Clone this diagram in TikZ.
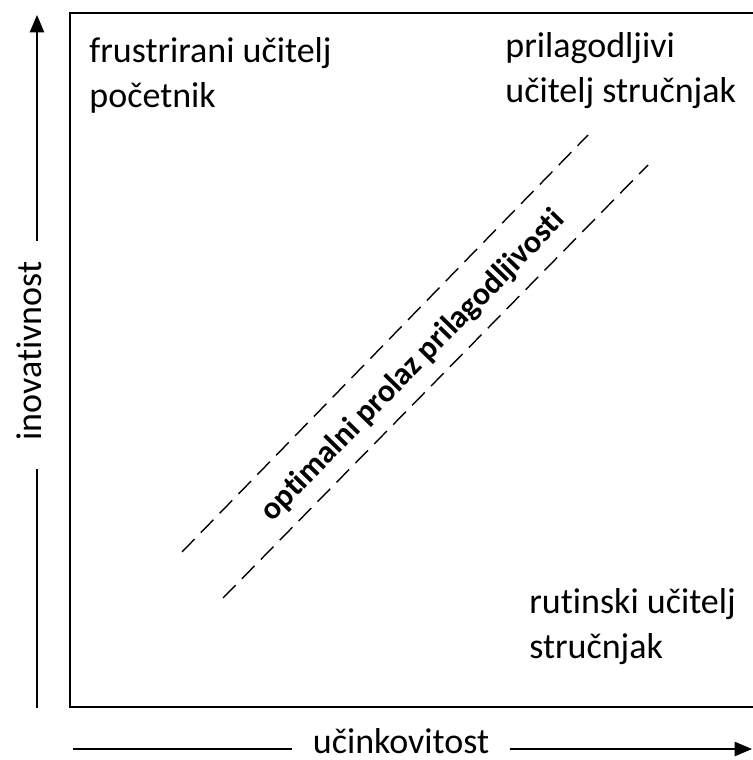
\documentclass[tikz,border=0pt]{standalone}
\usepackage{fontspec}
\setmainfont{Carlito}[Ligatures=NoCommon]
\usetikzlibrary{arrows}
\tikzstyle{quadrant} = [font=\fontsize{18}{22.5}\selectfont, align=left, inner sep=0pt, anchor=base west]
\tikzstyle{axis} = [font=\fontsize{18}{20}\selectfont, inner xsep=10pt, inner ysep=0pt]
\tikzstyle{passage} = [font=\fontsize{16}{20}\selectfont\bfseries, rotate=45.7]
\tikzstyle{frame} = [line width=1pt]
\tikzstyle{guide} = [line width=0.7pt, dash pattern=on 9pt off 4.5pt]
\tikzstyle{arrow} = [line width=1pt,->,>=triangle 45]

\begin{document}
\begin{tikzpicture}[x=0.5pt, y=-0.5pt]
        \useasboundingbox (0,0) rectangle (752,760);
        \draw [frame] (70,13) rectangle (790,707);

        \node (novice) [quadrant] at (89,107) {frustrirani učitelj\\početnik};
        \node (adaptive) [quadrant] at (505,102) {prilagodljivi\\učitelj stručnjak};
        \node (routine) [quadrant] at (529,658) {rutinski učitelj\\stručnjak};

        % optimalni prolaz
        \coordinate (upperstart) at (182,552);
        \coordinate (upperend) at (588,135);
        \coordinate (lowerstart) at (223,598);
        \coordinate (lowerend) at (648,165);
        \draw [guide] (upperstart) -- (upperend);
        \draw [guide] (lowerstart) -- (lowerend);
        \node (corridor) [passage] at (413,366) {optimalni prolaz prilagodljivosti};

        % osi
        \coordinate (ybottom) at (37,708);
        \coordinate (ytop) at (37,15);
        \node (innovation) [axis, rotate=90] at (29,351) {inovativnost};
        \draw [frame, shorten >=4pt] (ybottom) -- (ybottom |- innovation.west);
        \draw [arrow] (ytop |- innovation.east) -- (ytop);

        \coordinate (xleft) at (73,749);
        \coordinate (xright) at (752,749);
        \node (efficiency) [axis] at (401,741) {učinkovitost};
        \draw [frame] (xleft) -- (efficiency.west |- xleft);
        \draw [arrow] (efficiency.east |- xright) -- (xright);
    \end{tikzpicture}
\end{document}
